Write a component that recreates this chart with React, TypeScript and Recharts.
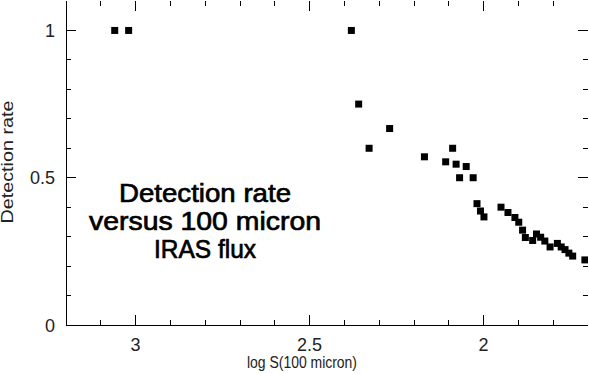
import React from "react";
import { ScatterChart, Scatter, XAxis, YAxis, Customized, ReferenceLine } from "recharts";

const logFlux = [
  3.06, 3.02, 2.38, 2.359, 2.329, 2.27, 2.17, 2.109, 2.089, 2.079, 2.069, 2.05, 2.03,
  2.019, 2.009, 1.999, 1.95, 1.93, 1.91, 1.899, 1.888, 1.88, 1.859, 1.848, 1.836,
  1.824, 1.809, 1.788, 1.777, 1.766, 1.755, 1.744, 1.709,
];
const detectionRate = [
  1.0, 1.0, 1.0, 0.75, 0.6, 0.667, 0.571, 0.554, 0.6, 0.546, 0.5, 0.538, 0.5,
  0.412, 0.387, 0.367, 0.4, 0.382, 0.365, 0.349, 0.322, 0.297, 0.287, 0.309, 0.298,
  0.285, 0.265, 0.277, 0.265, 0.256, 0.244, 0.234, 0.221,
];
const xTicks = [1.8, 1.9, 2.0, 2.1, 2.2, 2.3, 2.4, 2.5, 2.6, 2.7, 2.8, 2.9, 3.0, 3.1];
const yTicks = [0.1, 0.2, 0.3, 0.4, 0.5, 0.6, 0.7, 0.8, 0.9, 1.0];
const yLabelTicks = [0, 0.5, 1.0];
const annotationLines = ["Detection rate", "versus 100 micron", "IRAS flux"];

const X_DOMAIN: [number, number] = [1.7, 3.2];
const Y_DOMAIN: [number, number] = [0, 1.1];

const data = logFlux.map((x, i) => ({ x, y: detectionRate[i] }));

const FONT = "'Liberation Sans', Arial, sans-serif";
const isMajor = (v: number) => Math.abs(v * 2 - Math.round(v * 2)) < 1e-6;
const fmt = (v: number) => String(Math.round(v * 10) / 10);

// tick lengths expressed in data units (≈10px major / 5px minor)
const TX_MAJ = 0.0339;
const TY_MAJ = 0.0287;

const BottomLabel = (p: any) => {
  const v = p.payload.value;
  if (!isMajor(v)) return <g />;
  return (
    <text x={p.x} y={p.y + 25.5} textAnchor="middle" fontFamily={FONT} fontSize={18} fill="#222">
      {fmt(v)}
    </text>
  );
};
const LeftLabel = (p: any) => {
  const v = p.payload.value;
  return (
    <text x={p.x - 11} y={p.y + 6.5} textAnchor="end" fontFamily={FONT} fontSize={18} fill="#222">
      {fmt(v)}
    </text>
  );
};

const SquareDot = (p: any) => (
  <rect x={p.cx - 3.5} y={p.cy - 3.5} width={7} height={7} fill="#000" />
);

const Texts = () => (
  <g fontFamily={FONT} fill="#000">
    {annotationLines.map((t, i) => (
      <text
        key={t}
        x={205}
        y={202 + i * 28}
        textAnchor="middle"
        fontSize={26}
        stroke="#000"
        strokeWidth={0.7}
        textLength={[172, 232, 102][i]}
        lengthAdjust="spacingAndGlyphs"
      >
        {t}
      </text>
    ))}
    <text x={302} y={368} textAnchor="middle" fontSize={16} fill="#222" textLength={110} lengthAdjust="spacingAndGlyphs">
      log S(100 micron)
    </text>
    <text
      x={13}
      y={162}
      textAnchor="middle"
      fontSize={16}
      fill="#222"
      transform="rotate(-90 13 162)"
      textLength={123}
      lengthAdjust="spacingAndGlyphs"
    >
      Detection rate
    </text>
  </g>
);

const axisLine = { stroke: "#000", shapeRendering: "crispEdges" };

const tickLine = (key: string, a: { x: number; y: number }, b: { x: number; y: number }) => (
  <ReferenceLine
    key={key}
    xAxisId="b"
    yAxisId="l"
    segment={[a, b]}
    stroke="#000"
    strokeWidth={1}
    ifOverflow="visible"
    shapeRendering="crispEdges"
  />
);

export default function App() {
  const [x0, x1] = X_DOMAIN; // x0 = right edge (reversed), x1 = left edge
  const [y0, y1] = Y_DOMAIN;
  const ticks: React.ReactNode[] = [];
  xTicks.forEach((v) => {
    const len = isMajor(v) ? TX_MAJ : TX_MAJ / 2;
    ticks.push(tickLine(`b${v}`, { x: v, y: y0 }, { x: v, y: y0 + len }));
    ticks.push(tickLine(`t${v}`, { x: v, y: y1 }, { x: v, y: y1 - len }));
  });
  yTicks.forEach((v) => {
    const len = isMajor(v) ? TY_MAJ : TY_MAJ / 2;
    ticks.push(tickLine(`l${v}`, { x: x1, y: v }, { x: x1 - len, y: v }));
    ticks.push(tickLine(`r${v}`, { x: x0, y: v }, { x: x0 + len, y: v }));
  });

  return (
    <div style={{ position: "absolute", left: 0, top: 0, background: "#fff" }}>
      <ScatterChart width={589} height={374} margin={{ top: 1, right: 1, bottom: 0, left: 0 }}>
        <XAxis
          xAxisId="b"
          type="number"
          dataKey="x"
          domain={X_DOMAIN}
          reversed
          ticks={xTicks}
          interval={0}
          tick={(p: any) => <BottomLabel {...p} />}
          tickLine={false}
          tickSize={0}
          tickMargin={0}
          height={49}
          axisLine={axisLine}
          allowDataOverflow
        />
        <XAxis
          xAxisId="t"
          orientation="top"
          type="number"
          dataKey="x"
          domain={X_DOMAIN}
          reversed
          tick={false}
          tickLine={false}
          height={0}
          axisLine={axisLine}
          allowDataOverflow
        />
        <YAxis
          yAxisId="l"
          type="number"
          dataKey="y"
          domain={Y_DOMAIN}
          ticks={yLabelTicks}
          interval={0}
          tick={(p: any) => <LeftLabel {...p} />}
          tickLine={false}
          tickSize={0}
          tickMargin={0}
          width={66}
          axisLine={axisLine}
          allowDataOverflow
        />
        <YAxis
          yAxisId="r"
          orientation="right"
          type="number"
          dataKey="y"
          domain={Y_DOMAIN}
          tick={false}
          tickLine={false}
          width={0}
          axisLine={axisLine}
          allowDataOverflow
        />
        {ticks}
        <Scatter
          xAxisId="b"
          yAxisId="l"
          data={data}
          shape={(p: any) => <SquareDot {...p} />}
          isAnimationActive={false}
        />
        <Customized component={Texts} />
      </ScatterChart>
    </div>
  );
}
